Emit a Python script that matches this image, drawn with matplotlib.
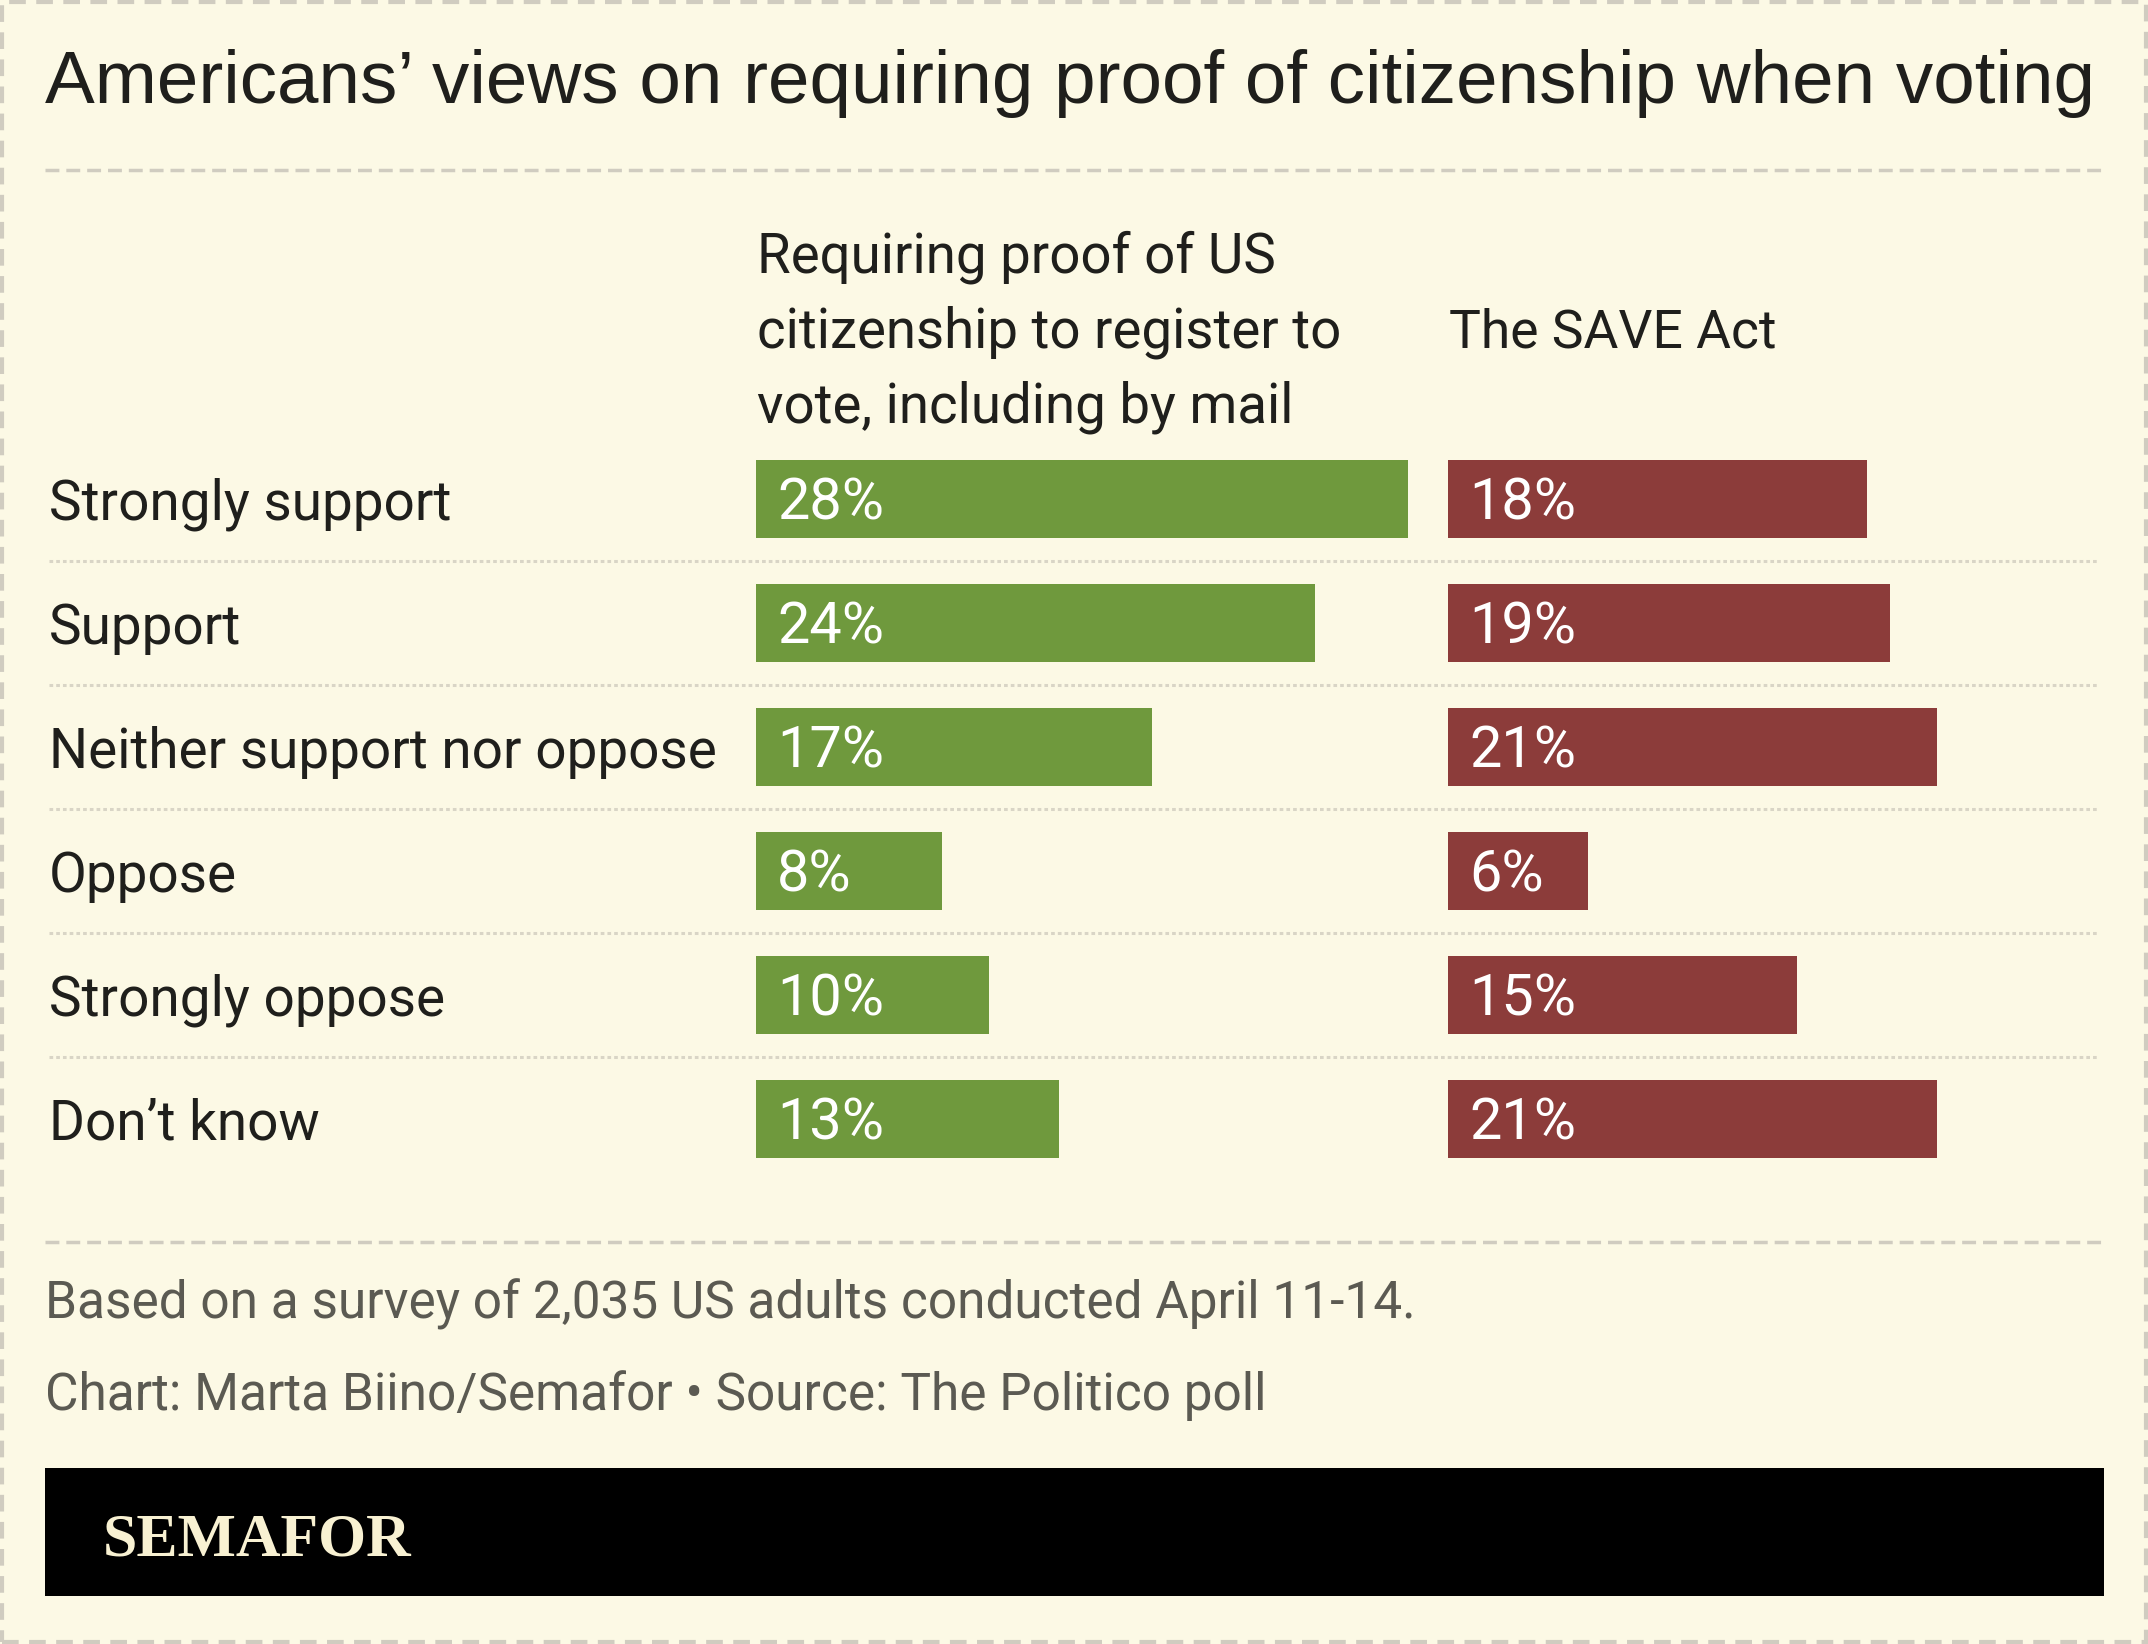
import matplotlib.pyplot as plt
from matplotlib.patches import Rectangle

categories = ["Strongly support", "Support", "Neither support nor oppose",
              "Oppose", "Strongly oppose", "Don\u2019t know"]
proof_of_citizenship = [28, 24, 17, 8, 10, 13]
save_act = [18, 19, 21, 6, 15, 21]
header_proof = ["Requiring proof of US", "citizenship to register to", "vote, including by mail"]
header_save = "The SAVE Act"

title = "Americans\u2019 views on requiring proof of citizenship when voting"
note = "Based on a survey of 2,035 US adults conducted April 11-14."
credit = "Chart: Marta Biino/Semafor \u2022 Source: The Politico poll"

W, H = 2148, 1644
BG = "#fcf9e5"
GREEN = "#6f993d"
RED = "#8c3c3a"
INK = "#1f1f1c"
GREY = "#5b5a52"
RULE = "#d0ccc0"
BODY = "Roboto"


def fx(x):
    return x / W


def fy(y):
    return 1 - y / H


def main() -> None:
    fig = plt.figure(figsize=(W / 100, H / 100), dpi=100, facecolor=BG)

    # outer dashed frame
    fig.add_artist(Rectangle((fx(2), fy(1642)), fx(2144), 1640 / H, transform=fig.transFigure,
                             fill=False, edgecolor=RULE, linewidth=3, linestyle=(0, (4, 2.5))))

    fig.text(fx(45), fy(103), title, family="Liberation Sans", fontsize=53.7, color=INK, va="baseline")
    fig.add_artist(plt.Line2D([fx(45), fx(2104)], [fy(170), fy(170)], transform=fig.transFigure,
                              color=RULE, linewidth=2.5, linestyle=(0, (4, 2))))

    # column headers
    for i, line in enumerate(header_proof):
        fig.text(fx(757), fy(272 + 75 * i), line, family=BODY, fontsize=39.3, color=INK, va="baseline")
    fig.text(fx(1449), fy(347), header_save, family=BODY, fontsize=38.5, color=INK, va="baseline")

    # row area
    top, bottom = 437, 1181
    n = len(categories)
    ax_rows = fig.add_axes([fx(45), fy(bottom), fx(2104 - 45), (bottom - top) / H])
    ax_rows.set_xlim(0, 2059)
    ax_rows.set_ylim(n - 0.5, -0.5)
    ax_rows.axis("off")
    ax_rows.hlines([i + 0.5 for i in range(n - 1)], 4, 2054, color="#d9d5c6", linewidth=2.2,
                   linestyles=(0, (1.2, 1)))
    for i, cat in enumerate(categories):
        ax_rows.annotate(cat, xy=(4, i), xytext=(0, -14.8), textcoords="offset points",
                         family=BODY, fontsize=39.5, color=INK, va="baseline")

    px_per_pct = 652 / 28
    panel_w = 680
    for left, values, color in [(756, proof_of_citizenship, GREEN), (1448, save_act, RED)]:
        ax = fig.add_axes([fx(left), fy(bottom), fx(panel_w), (bottom - top) / H])
        ax.patch.set_alpha(0)
        ax.set_xlim(0, panel_w / px_per_pct)
        ax.set_ylim(n - 0.5, -0.5)
        ax.axis("off")
        ax.barh(range(n), values, height=0.63, color=color, left=0)
        for i, v in enumerate(values):
            ax.annotate(f"{v}%", xy=(0, i), xytext=(15.1, -14.8), textcoords="offset points",
                        family=BODY, fontsize=41.5, color="white", va="baseline")

    # footer
    fig.add_artist(plt.Line2D([fx(45), fx(2104)], [fy(1242), fy(1242)], transform=fig.transFigure,
                              color=RULE, linewidth=2.5, linestyle=(0, (4, 2))))
    fig.text(fx(45), fy(1318), note, family=BODY, fontsize=37, color=GREY, va="baseline")
    fig.text(fx(45), fy(1410), credit, family=BODY, fontsize=37, color=GREY, va="baseline")

    fig.add_artist(Rectangle((fx(45), fy(1596)), fx(2104 - 45), 128 / H, transform=fig.transFigure,
                             facecolor="black", edgecolor="none"))
    fig.text(fx(103), fy(1555), "SEMAFOR", family="Liberation Serif", fontweight="bold",
             fontsize=44.5, color="#f8f1d2", va="baseline")

    fig.savefig("out.png", dpi=100, facecolor=BG)
    plt.close(fig)


if __name__ == "__main__":
    main()
